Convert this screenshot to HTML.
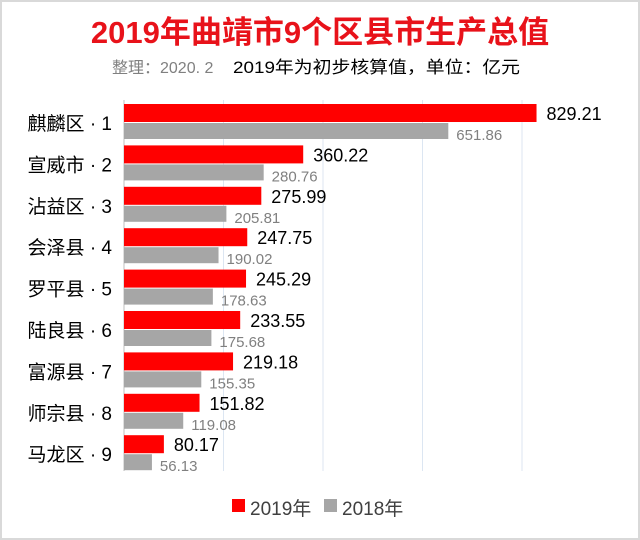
<!DOCTYPE html>
<html><head><meta charset="utf-8"><style>
body{margin:0;background:#fff;}
#wrap{position:relative;width:640px;height:540px;overflow:hidden;background:#fff;font-family:"Liberation Sans","Noto Sans CJK SC",sans-serif;}
</style></head><body>
<div id="wrap">
<svg id="svg" width="640" height="540">
<rect x="1" y="1" width="638" height="538" fill="none" stroke="#d9d9d9" stroke-width="2"/>
<text x="320" y="43" text-anchor="middle" font-size="31" font-weight="bold" fill="#e8121a" font-family="Liberation Sans,Noto Sans CJK SC,sans-serif">2019年曲靖市9个区县市生产总值</text>
<text x="112" y="73" font-size="16" fill="#808080" font-family="Liberation Sans,Noto Sans CJK SC,sans-serif">整理：2020. 2</text>
<text x="233" y="73" font-size="17" fill="#000" font-family="Liberation Sans,Noto Sans CJK SC,sans-serif" textLength="287" lengthAdjust="spacingAndGlyphs">2019年为初步核算值，单位：亿元</text>
<g id="grid"></g><g id="bars"></g>
<rect x="232" y="499" width="13" height="13" fill="#ff0000"/>
<text x="250" y="515" font-size="19" fill="#404040" font-family="Liberation Sans,Noto Sans CJK SC,sans-serif">2019年</text>
<rect x="324" y="499" width="13" height="13" fill="#a6a6a6"/>
<text x="342" y="515" font-size="19" fill="#404040" font-family="Liberation Sans,Noto Sans CJK SC,sans-serif">2018年</text>
</svg>
</div>
<script>
const categories=["麒麟区 · 1","宣威市 · 2","沾益区 · 3","会泽县 · 4","罗平县 · 5","陆良县 · 6","富源县 · 7","师宗县 · 8","马龙区 · 9"];
const values2019=[829.21,360.22,275.99,247.75,245.29,233.55,219.18,151.82,80.17];
const values2018=[651.86,280.76,205.81,190.02,178.63,175.68,155.35,119.08,56.13];
const gridTicks=[0,200,400,600,800];
const NS="http://www.w3.org/2000/svg";
const x0=124,scale=0.4975,top0=104,pitch=41.4;
const xs=v=>x0+v*scale;
const grid=document.getElementById('grid'),bars=document.getElementById('bars');
function mk(tag,attrs,parent){const e=document.createElementNS(NS,tag);for(const k in attrs)e.setAttribute(k,attrs[k]);parent.appendChild(e);return e;}
gridTicks.forEach((t,i)=>{
 const l=mk('line',{x1:xs(t),x2:xs(t),y1:100,y2:471,stroke:i==0?'#bfbfbf':'#dce6f2','stroke-width':1},grid);
 
 
});
categories.forEach((c,i)=>{
 const y=top0+pitch*i;
 const lab=mk('text',{x:112,y:y+26,'text-anchor':'end','font-size':19,fill:'#000','font-family':'Liberation Sans,Noto Sans CJK SC,sans-serif'},bars);
 lab.textContent=c;
 
 
 const r=mk('rect',{x:x0,y:y,width:xs(values2019[i])-x0,height:18,fill:'#ff0000'},bars);
 
 
 const g=mk('rect',{x:x0,y:y+19,width:xs(values2018[i])-x0,height:16,fill:'#a6a6a6'},bars);
 
 
 const t1=mk('text',{x:xs(values2019[i])+10,y:y+16,'font-size':18,fill:'#000','font-family':'Liberation Sans,sans-serif'},bars);
 t1.textContent=values2019[i].toFixed(2);
 
 
 const t2=mk('text',{x:xs(values2018[i])+8,y:y+36,'font-size':15,fill:'#808080','font-family':'Liberation Sans,sans-serif'},bars);
 t2.textContent=values2018[i].toFixed(2);
 
 
});
</script>
</body></html>
